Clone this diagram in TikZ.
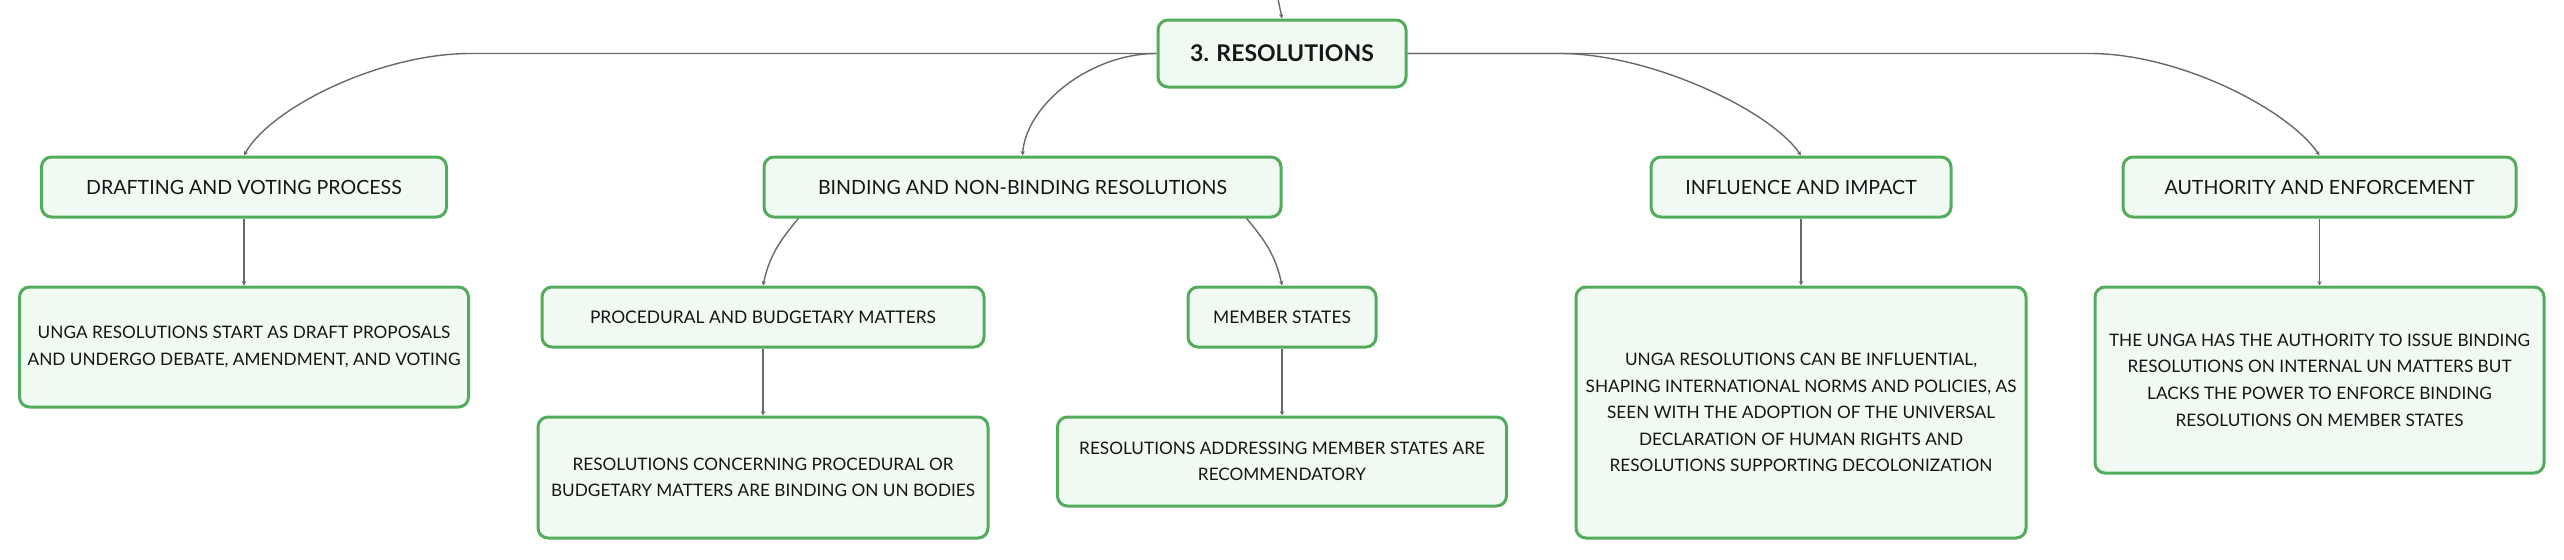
\documentclass[tikz,border=0pt]{standalone}
\usepackage{fontspec}
\setmainfont{Lato}
\usetikzlibrary{arrows.meta}
\definecolor{mygreen}{RGB}{82,172,92}
\definecolor{mylightgreen}{RGB}{241,249,243}
\definecolor{mygray}{RGB}{105,105,105}
\definecolor{mytext}{RGB}{22,22,22}
\newcommand{\heightbranch}{30pt}
\newcommand{\widthnote}{224.5pt}
\tikzset{
    common/.style={draw=mygreen, fill=mylightgreen, line width=1.5pt, rounded corners=5pt,
        text=mytext, align=center, inner sep=0pt, minimum height=\heightbranch},
    root/.style={common, font=\fontsize{11.5}{14}\selectfont\bfseries},
    branch/.style={common, font=\fontsize{9.8}{12}\selectfont},
    subbranch/.style={common, font=\fontsize{8.7}{11}\selectfont},
    note/.style={common, minimum width=\widthnote, font=\fontsize{8.6}{13.3}\selectfont},
    link/.style={draw=mygray, line width=0.7pt, -{Stealth[length=2.2pt,width=2.2pt]}},
}
\begin{document}
\begin{tikzpicture}[x=0.5pt, y=-0.5pt]
    \useasboundingbox (0,0) rectangle (2564,559);

    % central topic
    \node[root, minimum width=124pt, minimum height=33.5pt] (res) at (1282,53.5) {3. RESOLUTIONS};
    \coordinate (up) at (1277,-6);

    % main branches
    \node[branch, minimum width=202.5pt] (draft) at (244,187) {DRAFTING AND VOTING PROCESS};
    \node[branch, minimum width=258.5pt] (bind) at (1022.5,187) {BINDING AND NON-BINDING RESOLUTIONS};
    \node[branch, minimum width=150pt] (infl) at (1801,187) {INFLUENCE AND IMPACT};
    \node[branch, minimum width=196.5pt] (auth) at (2319.5,187) {AUTHORITY AND ENFORCEMENT};

    % sub branches
    \node[subbranch, minimum width=221pt] (proc) at (763,317) {PROCEDURAL AND BUDGETARY MATTERS};
    \node[subbranch, minimum width=94pt] (memb) at (1282,317) {MEMBER STATES};

    % notes
    \node[note, minimum height=60pt] (drafttext) at (244,347)
        {UNGA RESOLUTIONS START AS DRAFT PROPOSALS\\AND UNDERGO DEBATE, AMENDMENT, AND VOTING};
    \node[note, minimum width=225pt, minimum height=60.5pt] (proctext) at (763,477.5)
        {RESOLUTIONS CONCERNING PROCEDURAL OR\\BUDGETARY MATTERS ARE BINDING ON UN BODIES};
    \node[note, minimum height=44.5pt] (membtext) at (1282,461.5)
        {RESOLUTIONS ADDRESSING MEMBER STATES ARE\\RECOMMENDATORY};
    \node[note, minimum width=225pt, minimum height=125.5pt] (infltext) at (1801,412.5)
        {UNGA RESOLUTIONS CAN BE INFLUENTIAL,\\SHAPING INTERNATIONAL NORMS AND POLICIES, AS\\SEEN WITH THE ADOPTION OF THE UNIVERSAL\\DECLARATION OF HUMAN RIGHTS AND\\RESOLUTIONS SUPPORTING DECOLONIZATION};
    \node[note, minimum height=93pt] (authtext) at (2319.5,380)
        {THE UNGA HAS THE AUTHORITY TO ISSUE BINDING\\RESOLUTIONS ON INTERNAL UN MATTERS BUT\\LACKS THE POWER TO ENFORCE BINDING\\RESOLUTIONS ON MEMBER STATES};

    % connectors
    \draw[link] (up) -- (res.north);
    \draw[link] (res.west) -- (470,53.5) .. controls (380,53.5) and (270,108) .. (draft.north);
    \draw[link] (res.west) .. controls (1090,53.5) and (1026,105) .. (bind.north);
    \draw[link] (res.east) -- (1560,53.5) .. controls (1650,53.5) and (1770,110) .. (infl.north);
    \draw[link] (res.east) -- (2090,53.5) .. controls (2180,53.5) and (2289,110) .. (auth.north);
    \draw[link] (bind.188) to[out=-130, in=78] (proc.north);
    \draw[link] (bind.352) to[out=-50, in=102] (memb.north);
    \foreach \a/\b in {draft/drafttext, proc/proctext, memb/membtext, infl/infltext, auth/authtext}
        \draw[link] (\a.south) -- (\b.north);
\end{tikzpicture}
\end{document}
